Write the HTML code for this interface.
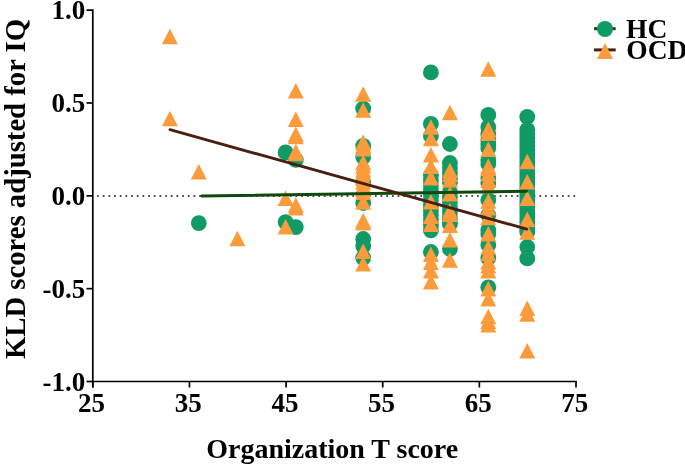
<!DOCTYPE html>
<html><head><meta charset="utf-8"><title>KLD scores vs Organization T score</title>
<style>
html,body{margin:0;padding:0;background:#fff;overflow:hidden}
svg{display:block}
text{font-family:"Liberation Serif","Times New Roman",serif;font-weight:bold;fill:#000}
.tk{font-size:27px}
.ti{font-size:28px}
.ti2{font-size:28.7px}
.lg{font-size:27.5px}
</style></head><body>
<svg width="685" height="466" viewBox="0 0 685 466">
<rect width="685" height="466" fill="#fff"/>
<line x1="97.1" y1="196" x2="576.0" y2="196" stroke="#111" stroke-width="1.5" stroke-dasharray="1.75 3.92"/>
<circle cx="198.8" cy="223.1" r="7.9" fill="#0f9b63"/>
<circle cx="285.6" cy="152.4" r="7.9" fill="#0f9b63"/>
<circle cx="285.6" cy="222.1" r="7.9" fill="#0f9b63"/>
<circle cx="295.8" cy="159.9" r="7.9" fill="#0f9b63"/>
<circle cx="295.8" cy="227.1" r="7.9" fill="#0f9b63"/>
<circle cx="363.2" cy="108.6" r="7.9" fill="#0f9b63"/>
<circle cx="363.2" cy="145.9" r="7.9" fill="#0f9b63"/>
<circle cx="363.2" cy="157" r="7.9" fill="#0f9b63"/>
<circle cx="363.2" cy="182" r="7.9" fill="#0f9b63"/>
<circle cx="363.2" cy="203" r="7.9" fill="#0f9b63"/>
<circle cx="363.2" cy="239" r="7.9" fill="#0f9b63"/>
<circle cx="363.2" cy="246" r="7.9" fill="#0f9b63"/>
<circle cx="363.2" cy="257.8" r="7.9" fill="#0f9b63"/>
<circle cx="430.9" cy="72.4" r="7.9" fill="#0f9b63"/>
<circle cx="430.9" cy="123.9" r="7.9" fill="#0f9b63"/>
<circle cx="430.9" cy="136" r="7.9" fill="#0f9b63"/>
<circle cx="430.9" cy="175" r="7.9" fill="#0f9b63"/>
<circle cx="430.9" cy="180" r="7.9" fill="#0f9b63"/>
<circle cx="430.9" cy="185" r="7.9" fill="#0f9b63"/>
<circle cx="430.9" cy="190" r="7.9" fill="#0f9b63"/>
<circle cx="430.9" cy="195" r="7.9" fill="#0f9b63"/>
<circle cx="430.9" cy="200" r="7.9" fill="#0f9b63"/>
<circle cx="430.9" cy="205" r="7.9" fill="#0f9b63"/>
<circle cx="430.9" cy="210" r="7.9" fill="#0f9b63"/>
<circle cx="430.9" cy="215" r="7.9" fill="#0f9b63"/>
<circle cx="430.9" cy="220" r="7.9" fill="#0f9b63"/>
<circle cx="430.9" cy="225" r="7.9" fill="#0f9b63"/>
<circle cx="430.9" cy="230.3" r="7.9" fill="#0f9b63"/>
<circle cx="430.9" cy="252" r="7.9" fill="#0f9b63"/>
<circle cx="449.9" cy="144" r="7.9" fill="#0f9b63"/>
<circle cx="449.9" cy="163" r="7.9" fill="#0f9b63"/>
<circle cx="449.9" cy="168" r="7.9" fill="#0f9b63"/>
<circle cx="449.9" cy="173" r="7.9" fill="#0f9b63"/>
<circle cx="449.9" cy="178" r="7.9" fill="#0f9b63"/>
<circle cx="449.9" cy="182" r="7.9" fill="#0f9b63"/>
<circle cx="449.9" cy="192" r="7.9" fill="#0f9b63"/>
<circle cx="449.9" cy="197" r="7.9" fill="#0f9b63"/>
<circle cx="449.9" cy="202" r="7.9" fill="#0f9b63"/>
<circle cx="449.9" cy="207" r="7.9" fill="#0f9b63"/>
<circle cx="449.9" cy="212" r="7.9" fill="#0f9b63"/>
<circle cx="449.9" cy="217" r="7.9" fill="#0f9b63"/>
<circle cx="449.9" cy="222" r="7.9" fill="#0f9b63"/>
<circle cx="449.9" cy="224" r="7.9" fill="#0f9b63"/>
<circle cx="449.9" cy="249" r="7.9" fill="#0f9b63"/>
<circle cx="488.3" cy="114.9" r="7.9" fill="#0f9b63"/>
<circle cx="488.3" cy="127" r="7.9" fill="#0f9b63"/>
<circle cx="488.3" cy="134" r="7.9" fill="#0f9b63"/>
<circle cx="488.3" cy="140" r="7.9" fill="#0f9b63"/>
<circle cx="488.3" cy="144" r="7.9" fill="#0f9b63"/>
<circle cx="488.3" cy="148" r="7.9" fill="#0f9b63"/>
<circle cx="488.3" cy="160" r="7.9" fill="#0f9b63"/>
<circle cx="488.3" cy="164" r="7.9" fill="#0f9b63"/>
<circle cx="488.3" cy="178" r="7.9" fill="#0f9b63"/>
<circle cx="488.3" cy="183" r="7.9" fill="#0f9b63"/>
<circle cx="488.3" cy="200" r="7.9" fill="#0f9b63"/>
<circle cx="488.3" cy="215" r="7.9" fill="#0f9b63"/>
<circle cx="488.3" cy="230" r="7.9" fill="#0f9b63"/>
<circle cx="488.3" cy="234" r="7.9" fill="#0f9b63"/>
<circle cx="488.3" cy="245" r="7.9" fill="#0f9b63"/>
<circle cx="488.3" cy="258" r="7.9" fill="#0f9b63"/>
<circle cx="488.3" cy="287.3" r="7.9" fill="#0f9b63"/>
<circle cx="527.25" cy="116.9" r="7.9" fill="#0f9b63"/>
<circle cx="527.25" cy="129.8" r="7.9" fill="#0f9b63"/>
<circle cx="527.25" cy="134" r="7.9" fill="#0f9b63"/>
<circle cx="527.25" cy="138" r="7.9" fill="#0f9b63"/>
<circle cx="527.25" cy="142" r="7.9" fill="#0f9b63"/>
<circle cx="527.25" cy="146" r="7.9" fill="#0f9b63"/>
<circle cx="527.25" cy="150" r="7.9" fill="#0f9b63"/>
<circle cx="527.25" cy="154" r="7.9" fill="#0f9b63"/>
<circle cx="527.25" cy="158" r="7.9" fill="#0f9b63"/>
<circle cx="527.25" cy="162" r="7.9" fill="#0f9b63"/>
<circle cx="527.25" cy="166" r="7.9" fill="#0f9b63"/>
<circle cx="527.25" cy="170" r="7.9" fill="#0f9b63"/>
<circle cx="527.25" cy="174" r="7.9" fill="#0f9b63"/>
<circle cx="527.25" cy="178" r="7.9" fill="#0f9b63"/>
<circle cx="527.25" cy="182" r="7.9" fill="#0f9b63"/>
<circle cx="527.25" cy="186" r="7.9" fill="#0f9b63"/>
<circle cx="527.25" cy="190" r="7.9" fill="#0f9b63"/>
<circle cx="527.25" cy="194" r="7.9" fill="#0f9b63"/>
<circle cx="527.25" cy="198" r="7.9" fill="#0f9b63"/>
<circle cx="527.25" cy="202" r="7.9" fill="#0f9b63"/>
<circle cx="527.25" cy="206" r="7.9" fill="#0f9b63"/>
<circle cx="527.25" cy="210" r="7.9" fill="#0f9b63"/>
<circle cx="527.25" cy="214" r="7.9" fill="#0f9b63"/>
<circle cx="527.25" cy="218" r="7.9" fill="#0f9b63"/>
<circle cx="527.25" cy="222" r="7.9" fill="#0f9b63"/>
<circle cx="527.25" cy="226" r="7.9" fill="#0f9b63"/>
<circle cx="527.25" cy="230" r="7.9" fill="#0f9b63"/>
<circle cx="527.25" cy="232" r="7.9" fill="#0f9b63"/>
<circle cx="527.25" cy="247" r="7.9" fill="#0f9b63"/>
<circle cx="527.25" cy="258.4" r="7.9" fill="#0f9b63"/>
<polygon points="169.9,28.7 177.9,44.2 161.9,44.2" fill="#fb9b3c"/>
<polygon points="169.9,110.8 177.9,126.3 161.9,126.3" fill="#fb9b3c"/>
<polygon points="198.8,164.1 206.8,179.6 190.8,179.6" fill="#fb9b3c"/>
<polygon points="237.4,230.8 245.4,246.3 229.4,246.3" fill="#fb9b3c"/>
<polygon points="285.6,190.5 293.6,206.0 277.6,206.0" fill="#fb9b3c"/>
<polygon points="285.6,218.9 293.6,234.4 277.6,234.4" fill="#fb9b3c"/>
<polygon points="295.8,83 303.8,98.5 287.8,98.5" fill="#fb9b3c"/>
<polygon points="295.8,111.6 303.8,127.1 287.8,127.1" fill="#fb9b3c"/>
<polygon points="295.8,126.5 303.8,142.0 287.8,142.0" fill="#fb9b3c"/>
<polygon points="295.8,128.8 303.8,144.3 287.8,144.3" fill="#fb9b3c"/>
<polygon points="295.8,143.7 303.8,159.2 287.8,159.2" fill="#fb9b3c"/>
<polygon points="295.8,145.7 303.8,161.2 287.8,161.2" fill="#fb9b3c"/>
<polygon points="295.8,197.3 303.8,212.8 287.8,212.8" fill="#fb9b3c"/>
<polygon points="295.8,200.0 303.8,215.5 287.8,215.5" fill="#fb9b3c"/>
<polygon points="363.2,86.2 371.2,101.7 355.2,101.7" fill="#fb9b3c"/>
<polygon points="363.2,102.3 371.2,117.8 355.2,117.8" fill="#fb9b3c"/>
<polygon points="363.2,134.2 371.2,149.7 355.2,149.7" fill="#fb9b3c"/>
<polygon points="363.2,137.5 371.2,153.0 355.2,153.0" fill="#fb9b3c"/>
<polygon points="363.2,140.9 371.2,156.4 355.2,156.4" fill="#fb9b3c"/>
<polygon points="363.2,154.6 371.2,170.1 355.2,170.1" fill="#fb9b3c"/>
<polygon points="363.2,158 371.2,173.5 355.2,173.5" fill="#fb9b3c"/>
<polygon points="363.2,162 371.2,177.5 355.2,177.5" fill="#fb9b3c"/>
<polygon points="363.2,165.7 371.2,181.2 355.2,181.2" fill="#fb9b3c"/>
<polygon points="363.2,170 371.2,185.5 355.2,185.5" fill="#fb9b3c"/>
<polygon points="363.2,174 371.2,189.5 355.2,189.5" fill="#fb9b3c"/>
<polygon points="363.2,178 371.2,193.5 355.2,193.5" fill="#fb9b3c"/>
<polygon points="363.2,181.5 371.2,197.0 355.2,197.0" fill="#fb9b3c"/>
<polygon points="363.2,184.4 371.2,199.9 355.2,199.9" fill="#fb9b3c"/>
<polygon points="363.2,194.3 371.2,209.8 355.2,209.8" fill="#fb9b3c"/>
<polygon points="363.2,212.8 371.2,228.3 355.2,228.3" fill="#fb9b3c"/>
<polygon points="363.2,215 371.2,230.5 355.2,230.5" fill="#fb9b3c"/>
<polygon points="363.2,243.4 371.2,258.9 355.2,258.9" fill="#fb9b3c"/>
<polygon points="363.2,256 371.2,271.5 355.2,271.5" fill="#fb9b3c"/>
<polygon points="430.9,119.2 438.9,134.7 422.9,134.7" fill="#fb9b3c"/>
<polygon points="430.9,130.8 438.9,146.3 422.9,146.3" fill="#fb9b3c"/>
<polygon points="430.9,147 438.9,162.5 422.9,162.5" fill="#fb9b3c"/>
<polygon points="430.9,158.4 438.9,173.9 422.9,173.9" fill="#fb9b3c"/>
<polygon points="430.9,170 438.9,185.5 422.9,185.5" fill="#fb9b3c"/>
<polygon points="430.9,194 438.9,209.5 422.9,209.5" fill="#fb9b3c"/>
<polygon points="430.9,208.4 438.9,223.9 422.9,223.9" fill="#fb9b3c"/>
<polygon points="430.9,216.5 438.9,232.0 422.9,232.0" fill="#fb9b3c"/>
<polygon points="430.9,246.5 438.9,262.0 422.9,262.0" fill="#fb9b3c"/>
<polygon points="430.9,254.5 438.9,270.0 422.9,270.0" fill="#fb9b3c"/>
<polygon points="430.9,263 438.9,278.5 422.9,278.5" fill="#fb9b3c"/>
<polygon points="430.9,274 438.9,289.5 422.9,289.5" fill="#fb9b3c"/>
<polygon points="449.9,104.7 457.9,120.2 441.9,120.2" fill="#fb9b3c"/>
<polygon points="449.9,162.7 457.9,178.2 441.9,178.2" fill="#fb9b3c"/>
<polygon points="449.9,166.5 457.9,182.0 441.9,182.0" fill="#fb9b3c"/>
<polygon points="449.9,171.9 457.9,187.4 441.9,187.4" fill="#fb9b3c"/>
<polygon points="449.9,186 457.9,201.5 441.9,201.5" fill="#fb9b3c"/>
<polygon points="449.9,203 457.9,218.5 441.9,218.5" fill="#fb9b3c"/>
<polygon points="449.9,206.5 457.9,222.0 441.9,222.0" fill="#fb9b3c"/>
<polygon points="449.9,217.5 457.9,233.0 441.9,233.0" fill="#fb9b3c"/>
<polygon points="449.9,232 457.9,247.5 441.9,247.5" fill="#fb9b3c"/>
<polygon points="449.9,252.3 457.9,267.8 441.9,267.8" fill="#fb9b3c"/>
<polygon points="488.3,61.2 496.3,76.7 480.3,76.7" fill="#fb9b3c"/>
<polygon points="488.3,121.5 496.3,137.0 480.3,137.0" fill="#fb9b3c"/>
<polygon points="488.3,125.5 496.3,141.0 480.3,141.0" fill="#fb9b3c"/>
<polygon points="488.3,141.6 496.3,157.1 480.3,157.1" fill="#fb9b3c"/>
<polygon points="488.3,158.4 496.3,173.9 480.3,173.9" fill="#fb9b3c"/>
<polygon points="488.3,160.5 496.3,176.0 480.3,176.0" fill="#fb9b3c"/>
<polygon points="488.3,166 496.3,181.5 480.3,181.5" fill="#fb9b3c"/>
<polygon points="488.3,172.3 496.3,187.8 480.3,187.8" fill="#fb9b3c"/>
<polygon points="488.3,178 496.3,193.5 480.3,193.5" fill="#fb9b3c"/>
<polygon points="488.3,193.3 496.3,208.8 480.3,208.8" fill="#fb9b3c"/>
<polygon points="488.3,200 496.3,215.5 480.3,215.5" fill="#fb9b3c"/>
<polygon points="488.3,209.7 496.3,225.2 480.3,225.2" fill="#fb9b3c"/>
<polygon points="488.3,226.1 496.3,241.6 480.3,241.6" fill="#fb9b3c"/>
<polygon points="488.3,239.5 496.3,255.0 480.3,255.0" fill="#fb9b3c"/>
<polygon points="488.3,245.7 496.3,261.2 480.3,261.2" fill="#fb9b3c"/>
<polygon points="488.3,253.9 496.3,269.4 480.3,269.4" fill="#fb9b3c"/>
<polygon points="488.3,258.1 496.3,273.6 480.3,273.6" fill="#fb9b3c"/>
<polygon points="488.3,263.1 496.3,278.6 480.3,278.6" fill="#fb9b3c"/>
<polygon points="488.3,281 496.3,296.5 480.3,296.5" fill="#fb9b3c"/>
<polygon points="488.3,291 496.3,306.5 480.3,306.5" fill="#fb9b3c"/>
<polygon points="488.3,308.8 496.3,324.3 480.3,324.3" fill="#fb9b3c"/>
<polygon points="488.3,313.6 496.3,329.1 480.3,329.1" fill="#fb9b3c"/>
<polygon points="488.3,317 496.3,332.5 480.3,332.5" fill="#fb9b3c"/>
<polygon points="527.25,153.8 535.25,169.3 519.25,169.3" fill="#fb9b3c"/>
<polygon points="527.25,174 535.25,189.5 519.25,189.5" fill="#fb9b3c"/>
<polygon points="527.25,190.6 535.25,206.1 519.25,206.1" fill="#fb9b3c"/>
<polygon points="527.25,211.4 535.25,226.9 519.25,226.9" fill="#fb9b3c"/>
<polygon points="527.25,224.3 535.25,239.8 519.25,239.8" fill="#fb9b3c"/>
<polygon points="527.25,300.6 535.25,316.1 519.25,316.1" fill="#fb9b3c"/>
<polygon points="527.25,306.2 535.25,321.7 519.25,321.7" fill="#fb9b3c"/>
<polygon points="527.25,342.9 535.25,358.4 519.25,358.4" fill="#fb9b3c"/>
<line x1="201.8" y1="196" x2="526.6" y2="191.3" stroke="#0f4a0c" stroke-width="2.9" stroke-linecap="round"/>
<line x1="170" y1="129.7" x2="526.8" y2="229.1" stroke="#4a1f10" stroke-width="2.9" stroke-linecap="round"/>
<path d="M92.8 9.3V387.5M91.95 381.5H576.85" stroke="#000" stroke-width="1.7" fill="none"/>
<line x1="86.5" y1="10.15" x2="92.8" y2="10.15" stroke="#000" stroke-width="1.7"/>
<text x="85.2" y="19.35" text-anchor="end" class="tk">1.0</text>
<line x1="86.5" y1="102.98750000000001" x2="92.8" y2="102.98750000000001" stroke="#000" stroke-width="1.7"/>
<text x="85.2" y="112.18750000000001" text-anchor="end" class="tk">0.5</text>
<line x1="86.5" y1="195.82500000000002" x2="92.8" y2="195.82500000000002" stroke="#000" stroke-width="1.7"/>
<text x="85.2" y="205.025" text-anchor="end" class="tk">0.0</text>
<line x1="86.5" y1="288.6625" x2="92.8" y2="288.6625" stroke="#000" stroke-width="1.7"/>
<text x="85.2" y="297.8625" text-anchor="end" class="tk">-0.5</text>
<line x1="86.5" y1="381.5" x2="92.8" y2="381.5" stroke="#000" stroke-width="1.7"/>
<text x="85.2" y="390.7" text-anchor="end" class="tk">-1.0</text>
<line x1="92.8" y1="381.5" x2="92.8" y2="387.5" stroke="#000" stroke-width="1.7"/>
<text x="91.6" y="412.1" text-anchor="middle" class="tk">25</text>
<line x1="189.44" y1="381.5" x2="189.44" y2="387.5" stroke="#000" stroke-width="1.7"/>
<text x="188.24" y="412.1" text-anchor="middle" class="tk">35</text>
<line x1="286.08" y1="381.5" x2="286.08" y2="387.5" stroke="#000" stroke-width="1.7"/>
<text x="284.88" y="412.1" text-anchor="middle" class="tk">45</text>
<line x1="382.72" y1="381.5" x2="382.72" y2="387.5" stroke="#000" stroke-width="1.7"/>
<text x="381.52000000000004" y="412.1" text-anchor="middle" class="tk">55</text>
<line x1="479.36" y1="381.5" x2="479.36" y2="387.5" stroke="#000" stroke-width="1.7"/>
<text x="478.16" y="412.1" text-anchor="middle" class="tk">65</text>
<line x1="576.0" y1="381.5" x2="576.0" y2="387.5" stroke="#000" stroke-width="1.7"/>
<text x="574.8" y="412.1" text-anchor="middle" class="tk">75</text>
<text x="332.2" y="457.8" text-anchor="middle" class="ti">Organization T score</text>
<text transform="translate(24.5 189) rotate(-90)" text-anchor="middle" class="ti2">KLD scores adjusted for IQ</text>
<line x1="594" y1="28.7" x2="615.7" y2="28.7" stroke="#0f4a0c" stroke-width="3"/>
<circle cx="605" cy="29.0" r="8" fill="#0f9b63"/>
<line x1="594" y1="49.9" x2="615.7" y2="49.9" stroke="#4a1f10" stroke-width="3"/>
<polygon points="605,43.0 613,58.9 597,58.9" fill="#fb9b3c"/>
<text x="626" y="37.7" class="lg">HC</text>
<text x="626.3" y="59.2" class="lg">OCD</text>
</svg>
</body></html>
